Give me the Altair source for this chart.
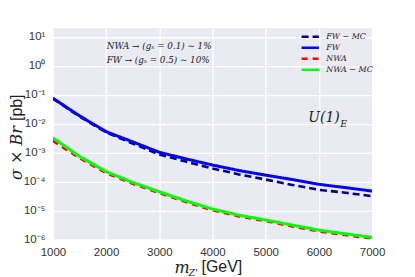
import altair as alt
import pandas as pd

masses = [1000, 1500, 2000, 2500, 3000, 3500, 4000, 4500, 5000, 5500, 6000, 6500, 7000]
fw_mc = [0.075, 0.018, 5.1e-3, 2.1e-3, 8.8e-4, 5.0e-4, 2.9e-4, 1.8e-4, 1.2e-4, 7.8e-5, 5.3e-5, 4.2e-5, 3.2e-5]
fw = [0.077, 0.019, 5.4e-3, 2.4e-3, 1.05e-3, 6.2e-4, 3.8e-4, 2.45e-4, 1.7e-4, 1.2e-4, 8.2e-5, 6.3e-5, 4.8e-5]
nwa = [2.6e-3, 6.6e-4, 2.0e-4, 8.6e-5, 4.1e-5, 2.0e-5, 1.05e-5, 6.4e-6, 4.4e-6, 2.9e-6, 1.95e-6, 1.45e-6, 1.1e-6]
nwa_mc = [3.3e-3, 7.5e-4, 2.25e-4, 9.5e-5, 4.5e-5, 2.2e-5, 1.15e-5, 7.0e-6, 4.8e-6, 3.2e-6, 2.15e-6, 1.6e-6, 1.2e-6]

series_names = ["FW − MC", "FW", "NWA", "NWA − MC"]
series_values = [fw_mc, fw, nwa, nwa_mc]
colors = ["#00008B", "#0000FF", "#FF0000", "#00FF00"]
dashes = [[7, 4], [1, 0], [6, 5], [1, 0]]
widths = [2.6, 3.0, 2.6, 3.0]

x_ticks = [1000, 2000, 3000, 4000, 5000, 6000, 7000]
y_ticks = [1e-6, 1e-5, 1e-4, 1e-3, 1e-2, 1e-1, 1, 10]
y_labels = ["10⁻⁶", "10⁻⁵", "10⁻⁴", "10⁻³", "10⁻²", "10⁻¹", "10⁰", "10¹"]

rows = []
for name, vals in zip(series_names, series_values):
    for m, v in zip(masses, vals):
        rows.append({"series": name, "mass": m, "value": v})
df = pd.DataFrame(rows)

label_expr = "[" + ",".join("'%s'" % s for s in y_labels) + "][round(log(datum.value)/LN10)+6]"

x_enc = alt.X("mass:Q", scale=alt.Scale(domain=[1000, 7000], nice=False, zero=False),
              axis=alt.Axis(values=x_ticks, format="d", title=None, ticks=False, domain=False,
                            labelFlush=False, labelPadding=7, labelFontSize=11.5,
                            labelFont="Liberation Sans", labelColor="#333333",
                            gridColor="white", gridWidth=1.3))
y_enc = alt.Y("value:Q", scale=alt.Scale(type="log", domain=[1e-6, 20], nice=False),
              axis=alt.Axis(values=y_ticks, labelExpr=label_expr, title=None, ticks=False,
                            domain=False, labelFlush=False, labelPadding=8, labelFontSize=11.5,
                            labelFont="Liberation Sans", labelColor="#333333",
                            gridColor="white", gridWidth=1.3))
color_enc = alt.Color("series:N", scale=alt.Scale(domain=series_names, range=colors),
                      legend=alt.Legend(title=None, orient="none", legendX=248, legendY=4,
                                        symbolType="stroke", symbolSize=300,
                                        symbolStrokeWidth=2.6, labelFont="DejaVu Serif",
                                        labelFontStyle="italic", labelFontSize=8,
                                        labelColor="#222222", rowPadding=2, padding=0,
                                        clipHeight=9, labelOffset=6))
dash_enc = alt.StrokeDash("series:N", scale=alt.Scale(domain=series_names, range=dashes),
                          legend=alt.Legend(title=None, orient="none", legendX=248, legendY=4))

layers = []
for name, w in zip(series_names, widths):
    layers.append(
        alt.Chart(df).transform_filter(alt.datum.series == name)
        .mark_line(strokeWidth=w, clip=True)
        .encode(x=x_enc, y=y_enc, color=color_enc, strokeDash=dash_enc)
    )

def txt(t, x, y, size, font="DejaVu Serif", style="italic", angle=0, align="left"):
    return alt.Chart(pd.DataFrame({"t": [t]})).mark_text(
        font=font, fontStyle=style, fontSize=size, align=align, baseline="middle",
        angle=angle, color="#222222"
    ).encode(x=alt.value(x), y=alt.value(y), text="t:N")

annots = [
    txt("NWA → (gₓ = 0.1) ∼ 1%", 54, 18, 8.8),
    txt("FW → (gₓ = 0.5) ∼ 10%", 54, 32, 8.8),
    txt("U(1)", 256, 90, 14),
    txt("E", 288, 96, 9.5),
    txt("m", 122, 240, 16),
    txt("Z'", 136, 245, 9.5),
    txt("[GeV]", 149, 239, 16, font="Liberation Sans", style="normal"),
    txt("σ × Br", -36, 152, 16, angle=270),
    txt("[pb]", -36, 93, 16, font="Liberation Sans", style="normal", angle=270),
]

chart = alt.layer(*layers, *annots).properties(
    width=320, height=212,
    autosize=alt.AutoSizeParams(type="none"),
    padding={"left": 45, "top": 20, "right": 35, "bottom": 37},
    background="white",
).configure_view(fill="#EAEAF2", stroke=None).resolve_scale(color="shared", strokeDash="shared")

chart.save("out.html", embed_options={"renderer": "svg", "actions": False})
